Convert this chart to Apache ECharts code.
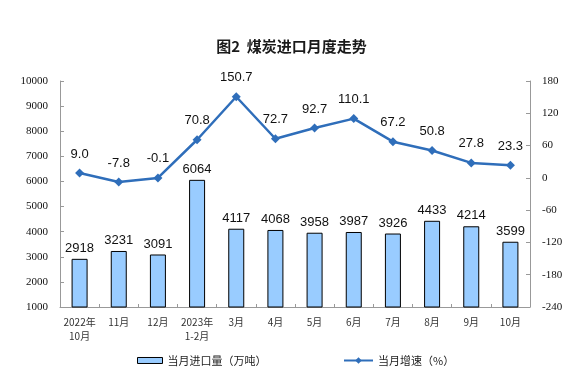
<!DOCTYPE html>
<html><head><meta charset="utf-8">
<script src="https://cdn.jsdelivr.net/npm/echarts@6/dist/echarts.min.js"></script>
<style>html,body{margin:0;padding:0;background:#fff}#c{width:583px;height:381px}</style>
</head><body><div id="c"></div>
<script>
const categories = ['2022年\n10月','11月','12月','2023年\n1-2月','3月','4月','5月','6月','7月','8月','9月','10月'];
const importVolume = [2918,3231,3091,6064,4117,4068,3958,3987,3926,4433,4214,3599];
const growthRate = [9.0,-7.8,-0.1,70.8,150.7,72.7,92.7,110.1,67.2,50.8,27.8,23.3];
const leftTicks = {min:1000,max:10000,interval:1000};
const rightTicks = {min:-240,max:180,interval:60};

const chart = echarts.init(document.getElementById('c'));
const cjk = '"Noto Sans CJK SC", sans-serif';
chart.setOption({
  animation:false,
  title:{text:'图2  煤炭进口月度走势',left:'center',top:34,textStyle:{fontFamily:cjk,fontSize:15,fontWeight:'bold',color:'#1a1a1a'}},
  grid:{left:60,right:53,top:81,bottom:74},
  legend:[
    {left:132,top:350,itemWidth:25,itemHeight:6,itemGap:4,data:[{name:'当月进口量（万吨）',icon:'rect',itemStyle:{color:'#99CCFF',borderColor:'#000',borderWidth:1}}],textStyle:{fontFamily:cjk,fontSize:11,color:'#222'}},
    {left:338,top:350,itemWidth:29,itemHeight:8,itemGap:4,data:[{name:'当月增速（%）'}],textStyle:{fontFamily:cjk,fontSize:11,color:'#222'}}
  ],
  xAxis:{type:'category',data:categories,
    axisLine:{onZero:false,lineStyle:{color:'#999'}},
    axisTick:{show:true,inside:true,length:3,lineStyle:{color:'#999'}},
    axisLabel:{fontFamily:'"Noto Sans CJK SC", serif',fontSize:10,color:'#333',lineHeight:14,margin:8,interval:0}},
  yAxis:[
    {type:'value',min:leftTicks.min,max:leftTicks.max,interval:leftTicks.interval,
     axisLine:{show:true,lineStyle:{color:'#999'}},axisTick:{show:true,inside:true,length:4,lineStyle:{color:'#999'}},
     splitLine:{show:false},axisLabel:{fontFamily:'"Liberation Serif", serif',fontSize:11,color:'#111',margin:12,formatter:v=>String(v)}},
    {type:'value',min:rightTicks.min,max:rightTicks.max,interval:rightTicks.interval,
     axisLine:{show:true,lineStyle:{color:'#999'}},axisTick:{show:true,inside:true,length:4,lineStyle:{color:'#999'}},
     splitLine:{show:false},axisLabel:{fontFamily:'"Liberation Serif", serif',fontSize:11,color:'#111',margin:12,formatter:v=>String(v)}}
  ],
  series:[
    {name:'当月进口量（万吨）',type:'bar',data:importVolume,barWidth:16,yAxisIndex:0,
     itemStyle:{color:'#99CCFF',borderColor:'#000',borderWidth:1},
     label:{show:true,position:'top',fontFamily:'"Liberation Sans", Arial',fontSize:13,color:'#111',distance:4}},
    {name:'当月增速（%）',type:'line',data:growthRate,yAxisIndex:1,
     symbol:'diamond',symbolSize:9,lineStyle:{color:'#2F6EBA',width:2.5},itemStyle:{color:'#2F6EBA'},
     label:{show:true,position:'top',fontFamily:'"Liberation Sans", Arial',fontSize:13,color:'#111',distance:8,
       formatter:p=>p.value.toFixed(1)}}
  ]
});
</script></body></html>
